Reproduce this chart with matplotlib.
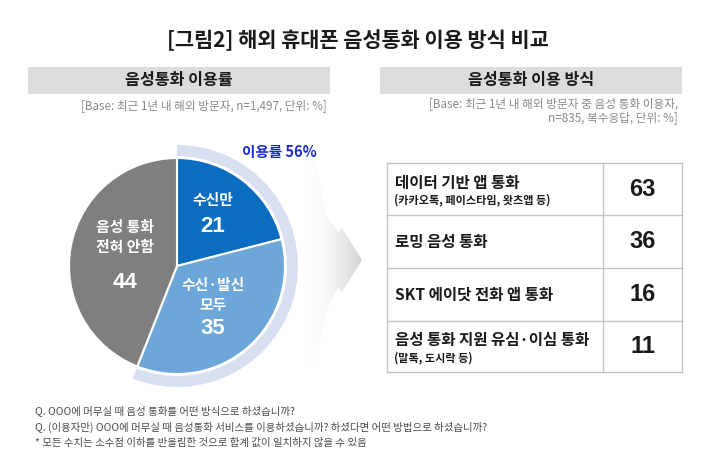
import numpy as np
import matplotlib
matplotlib.use("Agg")
import matplotlib.pyplot as plt
from matplotlib.patches import Wedge, Rectangle, PathPatch
from matplotlib.path import Path

# data
pie_labels = ["수신만", "수신·발신\n모두", "음성 통화\n전혀 안함"]
pie_values = [21, 35, 44]
pie_colors = ["#0B6DBF", "#6DA7DA", "#7F7F7F"]

method_labels = ["데이터 기반 앱 통화", "로밍 음성 통화", "SKT 에이닷 전화 앱 통화", "음성 통화 지원 유심·이심 통화"]
method_notes = ["(카카오톡, 페이스타임, 왓츠앱 등)", "", "", "(말톡, 도시락 등)"]
method_values = [63, 36, 16, 11]

title = "[그림2] 해외 휴대폰 음성통화 이용 방식 비교"
footnotes = [
    "Q. OOO에 머무실 때 음성 통화를 어떤 방식으로 하셨습니까?",
    "Q. (이용자만) OOO에 머무실 때 음성통화 서비스를 이용하셨습니까? 하셨다면 어떤 방법으로 하셨습니까?",
    "* 모든 수치는 소수점 이하를 반올림한 것으로 합계 값이 일치하지 않을 수 있음",
]

KR = ["Noto Sans CJK KR", "DejaVu Sans"]
NUM = ["Liberation Sans", "DejaVu Sans"]
plt.rcParams["font.family"] = KR

W, H = 715, 467
fig = plt.figure(figsize=(W / 100, H / 100), dpi=100)
ax = fig.add_axes([0, 0, 1, 1])


def Y(y):
    return H - y


# pie chart
cx, cy, r = 177, Y(266), 108
ax.pie(pie_values, startangle=90, counterclock=False, center=(cx, cy), radius=r,
       colors=pie_colors, wedgeprops=dict(edgecolor="white", linewidth=1.5))

# usage ring (수신만 + 수신·발신)
used = pie_values[0] + pie_values[1]
ring = Wedge((cx, cy), 121, 90 - 360 * used / 100, 90, width=11,
             facecolor="#D7DFF1", edgecolor="none", zorder=0)
ax.add_patch(ring)
ax.text(279, Y(152), f"이용률 {used}%", ha="center", va="center",
        fontsize=10.5, fontweight="bold", color="#1B2BD8")

# slice labels
txt_pos = [(213, 200, 227), (213, 295, 328), (125, 237, 282)]
for lab, val, (tx, ty, vy) in zip(pie_labels, pie_values, txt_pos):
    ax.text(tx, Y(ty), lab, ha="center", va="center", fontsize=10.7,
            fontweight="bold", color="white", linespacing=1.3)
    ax.text(tx, Y(vy), str(val), ha="center", va="center", fontsize=16,
            fontweight="bold", color="white", family=NUM)

# gradient arrow between panels
verts = [(298, Y(160)), (315, Y(160)), (323, Y(195)), (326, Y(215)), (338, Y(232)),
         (342, Y(228)), (362, Y(260)), (342, Y(292)), (338, Y(288)),
         (326, Y(305)), (323, Y(328)), (315, Y(367)), (298, Y(367)), (298, Y(160))]
codes = [Path.MOVETO, Path.LINETO, Path.CURVE3, Path.CURVE3, Path.LINETO,
         Path.LINETO, Path.LINETO, Path.LINETO, Path.LINETO,
         Path.CURVE3, Path.CURVE3, Path.LINETO, Path.LINETO, Path.CLOSEPOLY]
arrow = PathPatch(Path(verts, codes), facecolor="none", edgecolor="none")
ax.add_patch(arrow)
grad = np.linspace(0, 1, 256) ** 1.8
rgba = np.zeros((2, 256, 4))
rgba[..., :3] = 0.82
rgba[..., 3] = grad
im = ax.imshow(rgba, extent=[305, 362, Y(367), Y(160)], aspect="auto",
               interpolation="bilinear", zorder=0)
im.set_clip_path(arrow)

# title and headers
ax.text(358, Y(40), title, ha="center", va="center", fontsize=15,
        fontweight="bold", color="#1A1A1A")
for x0, x1, head in [(28, 330, "음성통화 이용률"), (380, 682, "음성통화 이용 방식")]:
    ax.add_patch(Rectangle((x0, Y(94)), x1 - x0, 27, facecolor="#DCDCDC",
                           edgecolor="none"))
    ax.text((x0 + x1) / 2, Y(80.5), head, ha="center", va="center",
            fontsize=11.6, fontweight="bold", color="#1A1A1A")

ax.text(327, Y(106), "[Base: 최근 1년 내 해외 방문자, n=1,497, 단위: %]", ha="right",
        va="center", fontsize=8.4, color="#8A8A8A")
ax.text(678, Y(104), "[Base: 최근 1년 내 해외 방문자 중 음성 통화 이용자,", ha="right",
        va="center", fontsize=8.4, color="#8A8A8A")
ax.text(678, Y(118), "n=835, 복수응답, 단위: %]", ha="right",
        va="center", fontsize=8.4, color="#8A8A8A")

# table
tx0, tx1, tdiv = 387, 682, 603
rows = [163, 215, 268, 321, 372]
line_kw = dict(color="#C4C4C4", lw=1)
for yy in rows:
    ax.plot([tx0, tx1], [Y(yy), Y(yy)], **line_kw)
for xx in (tx0, tdiv, tx1):
    ax.plot([xx, xx], [Y(rows[0]), Y(rows[-1])], **line_kw)

for i, (lab, note, val) in enumerate(zip(method_labels, method_notes, method_values)):
    top, bot = rows[i], rows[i + 1]
    mid = (top + bot) / 2
    if note:
        ax.text(395, Y(mid - 6), lab, ha="left", va="center", fontsize=11.2,
                fontweight="bold", color="#1A1A1A")
        ax.text(394, Y(mid + 11), note, ha="left", va="center", fontsize=8,
                fontweight="bold", color="#1A1A1A")
    else:
        ax.text(395, Y(mid), lab, ha="left", va="center", fontsize=11.2,
                fontweight="bold", color="#1A1A1A")
    ax.text((tdiv + tx1) / 2, Y(mid), str(val), ha="center", va="center",
            fontsize=17, fontweight="bold", color="#1A1A1A", family=NUM)

# footnotes
for k, line in enumerate(footnotes):
    ax.text(35, Y(411 + 16 * k), line, ha="left", va="center", fontsize=7.5,
            color="#4A4A4A")

ax.set_xlim(0, W)
ax.set_ylim(0, H)
ax.set_aspect("auto")
ax.axis("off")

fig.savefig("out.png", dpi=100, facecolor="white")
